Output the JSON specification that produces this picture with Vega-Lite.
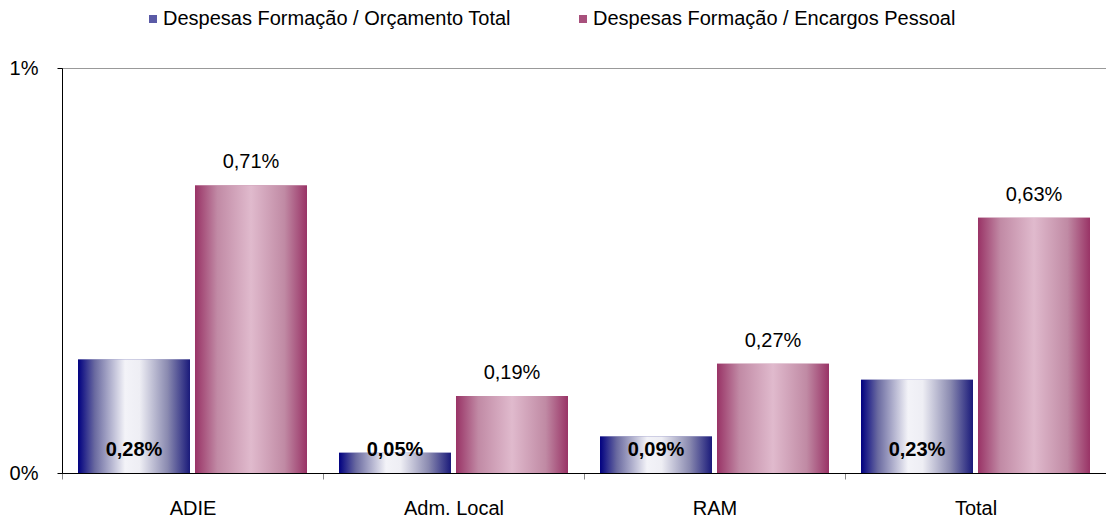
{
  "$schema": "https://vega.github.io/schema/vega-lite/v6.json",
  "width": 1044,
  "height": 405,
  "autosize": {"type": "none"},
  "padding": {"left": 62, "top": 68, "right": 0, "bottom": 50},
  "background": "white",
  "config": {
    "font": "Liberation Sans",
    "view": {"stroke": null},
    "locale": {"number": {"decimal": ",", "thousands": ".", "grouping": [3], "currency": ["", " €"]}}
  },
  "data": {
    "values": [
      {"entidade": "ADIE", "serie": "Despesas Formação / Orçamento Total", "valor": 0.0028},
      {"entidade": "ADIE", "serie": "Despesas Formação / Encargos Pessoal", "valor": 0.0071},
      {"entidade": "Adm. Local", "serie": "Despesas Formação / Orçamento Total", "valor": 0.0005},
      {"entidade": "Adm. Local", "serie": "Despesas Formação / Encargos Pessoal", "valor": 0.0019},
      {"entidade": "RAM", "serie": "Despesas Formação / Orçamento Total", "valor": 0.0009},
      {"entidade": "RAM", "serie": "Despesas Formação / Encargos Pessoal", "valor": 0.0027},
      {"entidade": "Total", "serie": "Despesas Formação / Orçamento Total", "valor": 0.0023},
      {"entidade": "Total", "serie": "Despesas Formação / Encargos Pessoal", "valor": 0.0063}
    ]
  },
  "encoding": {
    "x": {
      "field": "entidade", "type": "nominal", "sort": null,
      "scale": {"paddingInner": 0, "paddingOuter": 0},
      "axis": {
        "title": null, "labelAngle": 0, "labelFontSize": 20, "labelColor": "black",
        "labelPadding": 19, "tickBand": "extent", "tickSize": 6, "tickColor": "#888888",
        "domainColor": "black", "grid": false
      }
    },
    "xOffset": {
      "field": "serie", "type": "nominal", "sort": ["Despesas Formação / Orçamento Total", "Despesas Formação / Encargos Pessoal"],
      "scale": {"paddingInner": 0.0427, "paddingOuter": 0.137}
    },
    "y": {
      "field": "valor", "type": "quantitative",
      "scale": {"domain": [0, 0.01], "nice": false},
      "axis": {
        "title": null, "values": [0, 0.01], "format": ".0%", "labelFontSize": 20, "labelColor": "black",
        "tickSize": 5, "tickColor": "black", "domainColor": "black", "labelPadding": 19,
        "grid": true, "gridDash": [1, 1], "gridColor": "#333333"
      }
    }
  },
  "layer": [
    {
      "mark": {"type": "bar"},
      "encoding": {
        "color": {
          "field": "serie", "type": "nominal",
          "scale": {
            "domain": ["Despesas Formação / Orçamento Total", "Despesas Formação / Encargos Pessoal"],
            "range": ["#5a5aa6", "#a8507c"]
          },
          "legend": {
            "title": null, "orient": "none", "direction": "horizontal",
            "legendX": 81, "legendY": -59,
            "symbolType": "square", "symbolSize": 64, "symbolStrokeWidth": 0,
            "labelFontSize": 20, "labelColor": "black", "labelLimit": 600,
            "columnPadding": 62, "labelOffset": 0
          }
        }
      }
    },
    {
      "transform": [{"filter": "datum.serie === 'Despesas Formação / Orçamento Total'"}],
      "mark": {"type": "bar", "color": {"gradient": "linear", "x1": 0, "y1": 0, "x2": 1, "y2": 0, "stops": [
        {"offset": 0, "color": "#000080"},
        {"offset": 0.15, "color": "#6a6aa0"},
        {"offset": 0.42, "color": "#f3f3f8"},
        {"offset": 0.55, "color": "#eeeef4"},
        {"offset": 0.8, "color": "#8a8ab0"},
        {"offset": 1, "color": "#1a1a7a"}
      ]}}
    },
    {
      "transform": [{"filter": "datum.serie === 'Despesas Formação / Encargos Pessoal'"}],
      "mark": {"type": "bar", "color": {"gradient": "linear", "x1": 0, "y1": 0, "x2": 1, "y2": 0, "stops": [
        {"offset": 0, "color": "#993366"},
        {"offset": 0.2, "color": "#c18aa5"},
        {"offset": 0.5, "color": "#e0bacd"},
        {"offset": 0.8, "color": "#c08aa4"},
        {"offset": 1, "color": "#993366"}
      ]}}
    },
    {
      "transform": [{"filter": "datum.serie === 'Despesas Formação / Orçamento Total'"}],
      "mark": {"type": "text", "fontWeight": "bold", "fontSize": 20, "dy": -23, "color": "black"},
      "encoding": {
        "y": {"datum": 0, "type": "quantitative"},
        "text": {"field": "valor", "type": "quantitative", "format": ".2%"}
      }
    },
    {
      "transform": [{"filter": "datum.serie === 'Despesas Formação / Encargos Pessoal'"}],
      "mark": {"type": "text", "fontSize": 20, "dy": -23, "color": "black"},
      "encoding": {
        "text": {"field": "valor", "type": "quantitative", "format": ".2%"}
      }
    }
  ]
}
